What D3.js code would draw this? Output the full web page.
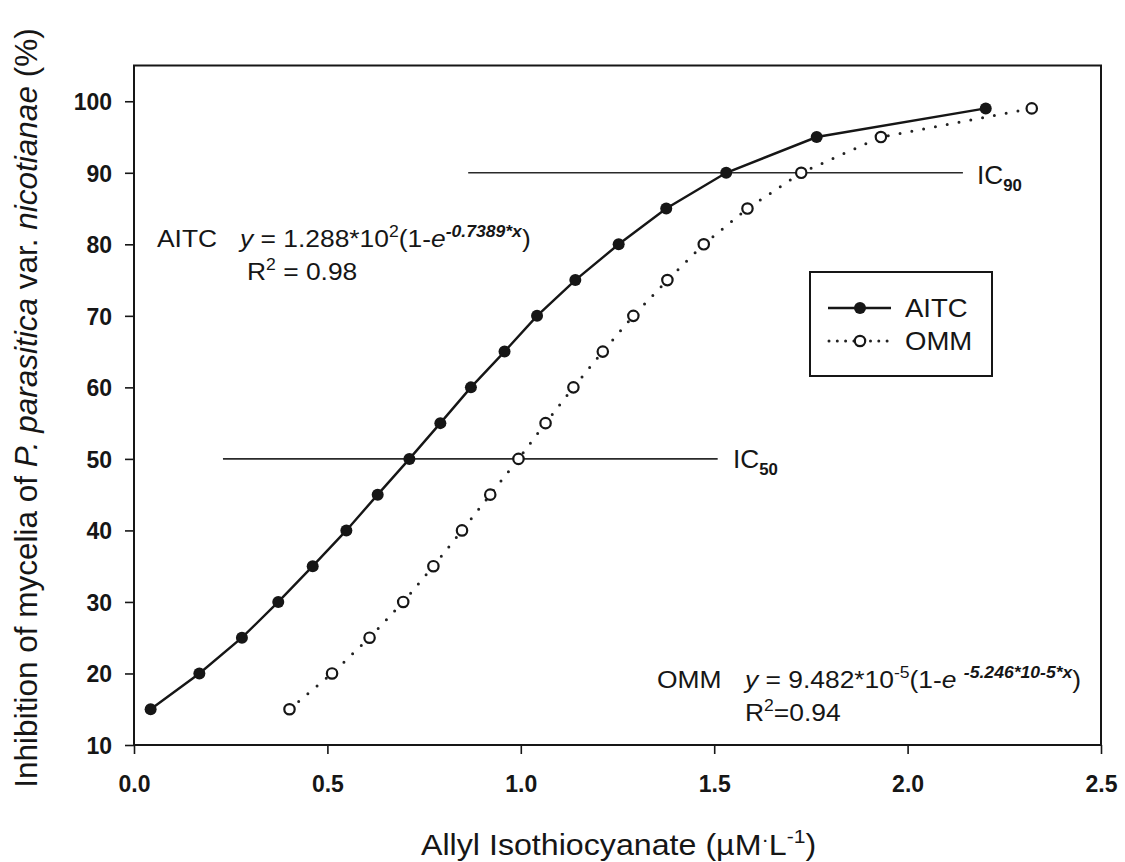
<!DOCTYPE html>
<html>
<head>
<meta charset="utf-8">
<script src="https://cdn.jsdelivr.net/npm/d3@7"></script>
<style>
  html, body { margin: 0; padding: 0; background: #fff; }
  svg { display: block; font-family: "Liberation Sans", Arial, Helvetica, sans-serif; }
</style>
</head>
<body>
<svg id="chart" width="1125" height="862"></svg>
<script>
// ---- data ----
const inhibition = [15, 20, 25, 30, 35, 40, 45, 50, 55, 60, 65, 70, 75, 80, 85, 90, 95, 99];
const aitcConc = [0.043, 0.169, 0.279, 0.373, 0.462, 0.549, 0.630, 0.712, 0.792, 0.871, 0.958, 1.042, 1.141, 1.253, 1.376, 1.531, 1.765, 2.202];
const ommConc  = [0.402, 0.512, 0.609, 0.696, 0.774, 0.848, 0.921, 0.994, 1.064, 1.136, 1.212, 1.291, 1.379, 1.473, 1.586, 1.725, 1.931, 2.321];
const seriesNames = ["AITC", "OMM"];
const xTicks = [0, 0.5, 1.0, 1.5, 2.0, 2.5];
const yTicks = [10, 20, 30, 40, 50, 60, 70, 80, 90, 100];
const icLevels = [90, 50];
const icLabels = ["90", "50"];
const icStart = [0.864, 0.230];
const icEnd = [2.143, 1.509];

// ---- setup ----
const svg = d3.select("#chart");
const ink = "#161616";
const x = d3.scaleLinear().domain([0, 2.5]).range([134, 1101]);
const y = d3.scaleLinear().domain([10, 105]).range([745, 65.5]);

svg.append("rect").attr("width", 1125).attr("height", 862).attr("fill", "#fff");

// helper: rich text with horizontal stretch
function rich(px, py, size, parts, opts = {}) {
  const stretch = opts.stretch || 1.1;
  const t = svg.append("text")
    .attr("transform", `translate(${px},${py}) scale(${stretch},1)`)
    .attr("font-size", size)
    .attr("fill", ink)
    .attr("xml:space", "preserve")
    .style("white-space", "pre");
  let shift = 0;
  parts.forEach(p => {
    const ts = t.append("tspan").text(p.t);
    const target = p.dy || 0;
    ts.attr("dy", target - shift);
    shift = target;
    if (p.size) ts.attr("font-size", p.size);
    if (p.italic) ts.attr("font-style", "italic");
    if (p.bold) ts.attr("font-weight", "bold");
  });
  return t;
}

// ---- axes ----
const xAxis = svg.append("g").attr("transform", "translate(0,745)")
  .call(d3.axisBottom(x).tickValues(xTicks).tickSize(9).tickFormat(d3.format(".1f")));
const yAxis = svg.append("g").attr("transform", "translate(134,0)")
  .call(d3.axisLeft(y).tickValues(yTicks).tickSize(9).tickFormat(d3.format("d")));
[xAxis, yAxis].forEach(a => {
  a.select(".domain").remove();
  a.selectAll(".tick line").attr("stroke", ink).attr("stroke-width", 1.6);
  a.selectAll(".tick text").attr("fill", ink).attr("font-size", 23)
    .attr("font-weight", "bold").attr("font-family", "\"Liberation Sans\", Arial, sans-serif");
});
xAxis.selectAll(".tick text").attr("y", 47).attr("dy", 0);
yAxis.selectAll(".tick text").attr("x", -22).attr("dy", "0.36em");

// frame
svg.append("rect")
  .attr("x", x(0)).attr("y", y(105))
  .attr("width", x(2.5) - x(0)).attr("height", y(10) - y(105))
  .attr("fill", "none").attr("stroke", ink).attr("stroke-width", 2);

// IC reference lines
icLevels.forEach((lv, i) => {
  svg.append("line")
    .attr("x1", x(icStart[i])).attr("x2", x(icEnd[i]))
    .attr("y1", y(lv)).attr("y2", y(lv))
    .attr("stroke", "#2a2a2a").attr("stroke-width", 1.6);
});
rich(977, 184, 25, [{t: "IC"}, {t: icLabels[0], size: 16, bold: true, dy: 7}], {stretch: 1.05});
rich(733, 467.5, 25, [{t: "IC"}, {t: icLabels[1], size: 16, bold: true, dy: 7}], {stretch: 1.05});

// ---- series ----
const aitcData = inhibition.map((v, i) => ({x: aitcConc[i], y: v}));
const ommData = inhibition.map((v, i) => ({x: ommConc[i], y: v}));
const line = d3.line().x(d => x(d.x)).y(d => y(d.y));

svg.append("path").datum(ommData).attr("d", line)
  .attr("fill", "none").attr("stroke", "#222").attr("stroke-width", 3)
  .attr("stroke-dasharray", "0,12").attr("stroke-linecap", "round");
svg.append("path").datum(aitcData).attr("d", line)
  .attr("fill", "none").attr("stroke", ink).attr("stroke-width", 2.4);

svg.append("g").selectAll("circle").data(aitcData).join("circle")
  .attr("cx", d => x(d.x)).attr("cy", d => y(d.y)).attr("r", 6).attr("fill", ink);
svg.append("g").selectAll("circle").data(ommData).join("circle")
  .attr("cx", d => x(d.x)).attr("cy", d => y(d.y)).attr("r", 5.2)
  .attr("fill", "#fff").attr("stroke", ink).attr("stroke-width", 2.2);

// ---- legend ----
svg.append("rect").attr("x", 810).attr("y", 272).attr("width", 182).attr("height", 104)
  .attr("fill", "#fff").attr("stroke", ink).attr("stroke-width", 2);
svg.append("line").attr("x1", 828).attr("x2", 891).attr("y1", 308).attr("y2", 308)
  .attr("stroke", ink).attr("stroke-width", 2.4);
svg.append("circle").attr("cx", 860).attr("cy", 308).attr("r", 6).attr("fill", ink);
svg.append("line").attr("x1", 829).attr("x2", 893).attr("y1", 341).attr("y2", 341)
  .attr("stroke", "#222").attr("stroke-width", 3).attr("stroke-dasharray", "0,8.3").attr("stroke-linecap", "round");
svg.append("circle").attr("cx", 860).attr("cy", 341).attr("r", 5.2)
  .attr("fill", "#fff").attr("stroke", ink).attr("stroke-width", 2.2);
rich(905, 317, 25.5, [{t: seriesNames[0]}], {stretch: 1.08});
rich(905, 350, 25.5, [{t: seriesNames[1]}], {stretch: 1.08});

// ---- fit annotations ----
rich(157, 247, 24, [{t: "AITC"}]);
rich(240, 247, 24, [
  {t: "y", italic: true}, {t: " = 1.288*10"}, {t: "2", size: 16, dy: -10},
  {t: "(1-"}, {t: "e", italic: true},
  {t: "-0.7389*", size: 16, bold: true, italic: true, dy: -10},
  {t: "x", size: 16, bold: true, italic: true, dy: -10},
  {t: ")"}
]);
rich(247, 280, 24, [{t: "R"}, {t: "2", size: 16, dy: -10}, {t: " = 0.98"}]);

rich(657, 688, 24, [{t: "OMM"}]);
rich(745, 688, 24, [
  {t: "y", italic: true}, {t: " = 9.482*10"}, {t: "-5", size: 16, dy: -10},
  {t: "(1-"}, {t: "e", italic: true}, {t: " "},
  {t: "-5.246*10-5*", size: 16, bold: true, italic: true, dy: -10},
  {t: "x", size: 16, bold: true, italic: true, dy: -10},
  {t: ")"}
]);
rich(745, 721, 24, [{t: "R"}, {t: "2", size: 16, dy: -10}, {t: "=0.94"}]);

// ---- axis titles ----
rich(421, 855, 29, [
  {t: "Allyl Isothiocyanate (µM"}, {t: "·", size: 20, dy: -9}, {t: "L"},
  {t: "-1", size: 19, dy: -12}, {t: ")"}
], {stretch: 1.11});

const yt = svg.append("text")
  .attr("transform", "translate(37,408) rotate(-90)")
  .attr("text-anchor", "middle").attr("font-size", 31.5).attr("fill", ink);
yt.append("tspan").text("Inhibition of mycelia of ");
yt.append("tspan").attr("font-style", "italic").text("P. parasitica");
yt.append("tspan").text(" var. ");
yt.append("tspan").attr("font-style", "italic").text("nicotianae");
yt.append("tspan").text(" (%)");
</script>
</body>
</html>
